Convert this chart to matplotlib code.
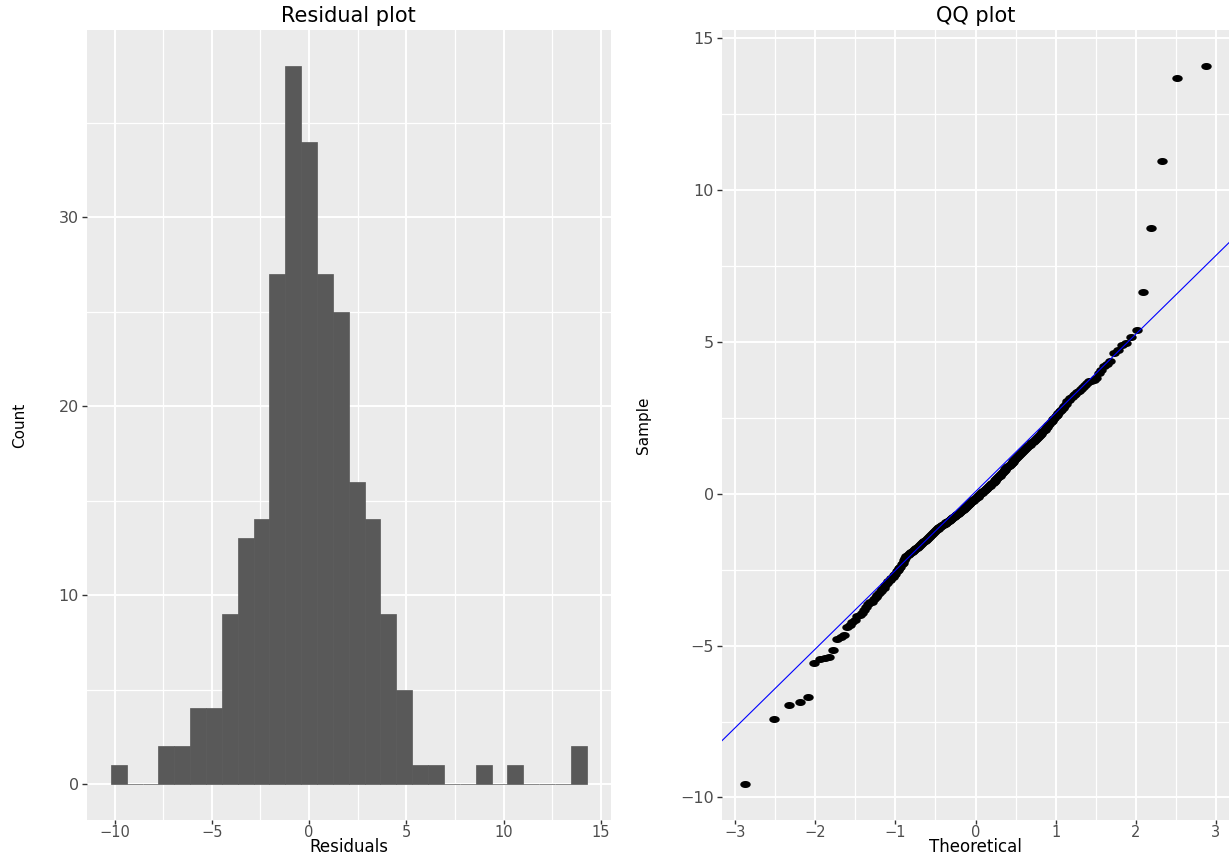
import numpy as np
import matplotlib
matplotlib.use("Agg")
import matplotlib.pyplot as plt
from matplotlib.path import Path
from matplotlib.ticker import MultipleLocator
from statistics import NormalDist

# ---------------- data ----------------
residuals = [
    -9.56,
    -7.42, -6.97,
    -6.85, -6.70,
    -5.58, -5.45, -5.41, -5.36,
    -5.14, -4.78, -4.72, -4.66,
    -4.38, -4.31, -4.22, -4.15, -4.04, -3.99, -3.91, -3.83, -3.74,
    -3.64, -3.58, -3.55, -3.46, -3.41, -3.32, -3.28, -3.20, -3.13, -3.09,
    -3.00, -2.94, -2.88,
    -2.83, -2.78, -2.74, -2.67, -2.63, -2.55, -2.52, -2.44, -2.40, -2.31,
    -2.27, -2.19, -2.12, -2.06,
    -2.02, -1.99, -1.96, -1.93, -1.91, -1.88, -1.85, -1.82, -1.80, -1.77,
    -1.74, -1.71, -1.69, -1.66, -1.63, -1.60, -1.57, -1.54, -1.52, -1.48,
    -1.45, -1.42, -1.39, -1.36, -1.33, -1.29, -1.25,
    -1.21, -1.19, -1.17, -1.15, -1.13, -1.11, -1.09, -1.07, -1.04, -1.02,
    -1.00, -0.98, -0.96, -0.94, -0.92, -0.90, -0.88, -0.86, -0.84, -0.82,
    -0.80, -0.78, -0.76, -0.74, -0.71, -0.69, -0.67, -0.65, -0.63, -0.61,
    -0.58, -0.56, -0.54, -0.52, -0.50, -0.47, -0.45, -0.42,
    -0.40, -0.37, -0.35, -0.33, -0.30, -0.28, -0.25, -0.23, -0.21, -0.18,
    -0.16, -0.13, -0.11, -0.09, -0.06, -0.04, -0.02, 0.01, 0.03, 0.06,
    0.08, 0.10, 0.13, 0.15, 0.17, 0.20, 0.22, 0.25, 0.27, 0.29,
    0.32, 0.34, 0.37, 0.39,
    0.42, 0.45, 0.48, 0.51, 0.54, 0.57, 0.60, 0.63, 0.66, 0.69,
    0.72, 0.75, 0.78, 0.81, 0.84, 0.87, 0.90, 0.93, 0.96, 0.99,
    1.02, 1.05, 1.08, 1.11, 1.14, 1.17, 1.21,
    1.24, 1.27, 1.30, 1.34, 1.37, 1.40, 1.43, 1.46, 1.50, 1.53,
    1.56, 1.59, 1.62, 1.66, 1.69, 1.72, 1.75, 1.78, 1.82, 1.85,
    1.88, 1.91, 1.94, 1.98, 2.02,
    2.06, 2.11, 2.16, 2.21, 2.26, 2.31, 2.36, 2.41, 2.46, 2.51,
    2.56, 2.61, 2.66, 2.71, 2.77, 2.83,
    2.89, 2.97, 3.04, 3.10, 3.15, 3.20, 3.24, 3.29, 3.34, 3.40,
    3.46, 3.52, 3.58, 3.64,
    3.70, 3.72, 3.76, 3.81, 3.98, 4.08, 4.22, 4.29, 4.36,
    4.62, 4.74, 4.90, 4.98, 5.17,
    5.38,
    6.64,
    8.75,
    10.95,
    13.70, 14.09,
]
n_bins = 30
qq_line_intercept = 0.07
qq_line_slope = 2.59

titles = ["Residual plot", "QQ plot"]
x_labels = ["Residuals", "Theoretical"]
y_labels = ["Count", "Sample"]

# ---------------- style ----------------
PANEL = "#EBEBEB"
BAR = "#595959"
TICKC = "#4D4D4D"
TICKMARK = "#333333"

W, H = 1229, 856
fig = plt.figure(figsize=(W / 100, H / 100), dpi=100, facecolor="white")

def px_axes(x0, x1, y_top, y_bot):
    return fig.add_axes([x0 / W, 1 - y_bot / H, (x1 - x0) / W, (y_bot - y_top) / H])

ax1 = px_axes(87, 610.5, 30, 820)
ax2 = px_axes(722, 1229, 30, 820)

def style(ax, major_x, major_y):
    ax.set_facecolor(PANEL)
    for s in ax.spines.values():
        s.set_visible(False)
    ax.xaxis.set_major_locator(MultipleLocator(major_x))
    ax.xaxis.set_minor_locator(MultipleLocator(major_x / 2))
    ax.yaxis.set_major_locator(MultipleLocator(major_y))
    ax.yaxis.set_minor_locator(MultipleLocator(major_y / 2))
    ax.grid(which="major", color="white", linewidth=1.4)
    ax.grid(which="minor", color="white", linewidth=0.9)
    ax.set_axisbelow(True)
    ax.tick_params(which="minor", length=0)
    ax.tick_params(axis="x", which="major", length=3, width=1.0, color=TICKMARK,
                   pad=0.3, labelsize=10.5, labelcolor=TICKC)
    ax.tick_params(axis="y", which="major", length=3.8, width=1.0, color=TICKMARK,
                   pad=2, labelsize=11.5, labelcolor=TICKC)

# ---------------- histogram (ggplot-style 30 bins) ----------------
r = np.asarray(residuals)
rmin, rmax = r.min(), r.max()
bw = (rmax - rmin) / (n_bins - 1)
boundary = bw / 2
origin = boundary + np.floor((rmin - boundary) / bw) * bw
edges = origin + bw * np.arange(0, n_bins + 2)
edges = edges[edges <= rmax + bw]
counts, _, _ = ax1.hist(r, bins=edges, color=BAR, edgecolor=BAR, linewidth=0.5, zorder=2)

style(ax1, 5, 10)
xr = edges[-1] - edges[0]
ax1.set_xlim(edges[0] - 0.05 * xr, edges[-1] + 0.05 * xr)
ymax = counts.max()
ax1.set_ylim(-0.05 * ymax, ymax * 1.05)

# ---------------- QQ plot ----------------
n = len(r)
p = (np.arange(1, n + 1) - 0.5) / n
theo = np.array([NormalDist().inv_cdf(v) for v in p])
samp = np.sort(r)

t = np.linspace(0, 2 * np.pi, 41)
ell = Path(np.column_stack([np.cos(t), 0.62 * np.sin(t)]), closed=True)
ax2.plot(theo, samp, linestyle="none", marker=ell, markersize=6.5,
         color="black", zorder=3)
ax2.axline((0, qq_line_intercept), slope=qq_line_slope, color="blue",
           linewidth=0.8, zorder=4)

style(ax2, 1, 5)
tr = theo.max() - theo.min()
ax2.set_xlim(theo.min() - 0.05 * tr, theo.max() + 0.05 * tr)
sr = samp.max() - samp.min()
ax2.set_ylim(samp.min() - 0.05 * sr, samp.max() + 0.05 * sr)

# ---------------- text ----------------
for ax, ttl, xl, yl, ylx in [(ax1, titles[0], x_labels[0], y_labels[0], 19.5),
                             (ax2, titles[1], x_labels[1], y_labels[1], 644)]:
    ax.set_title(ttl, fontsize=15, color="black", pad=6)
    ax.set_xlabel(xl, fontsize=12, color="black")
    ax.xaxis.set_label_coords(0.5, (820 - 855.6) / 790)
    ax.xaxis.label.set_va("bottom")
    ax.set_ylabel(yl, fontsize=11, color="black")
    bbox = ax.get_position()
    ax.yaxis.set_label_coords((ylx / W - bbox.x0) / bbox.width, 0.5)
    ax.yaxis.label.set_va("center")

fig.savefig("out.png", dpi=100, facecolor="white")
